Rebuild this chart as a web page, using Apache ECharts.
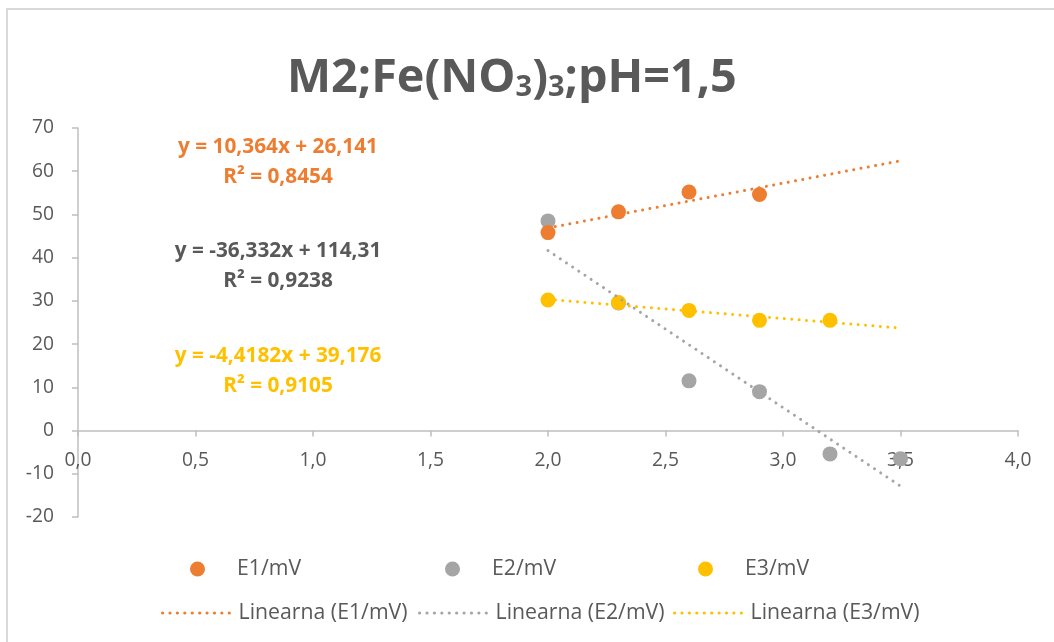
<!DOCTYPE html>
<html>
<head>
<meta charset="utf-8">
<script src="https://cdn.jsdelivr.net/npm/echarts@6/dist/echarts.min.js"></script>
<style>
html,body{margin:0;padding:0;background:#fff;}
#chart{width:1054px;height:642px;}
</style>
</head>
<body>
<div id="chart"></div>
<script>
// ---- data ----
const seriesNames = ['E1/mV', 'E2/mV', 'E3/mV'];
const trendNames = ['Linearna (E1/mV)', 'Linearna (E2/mV)', 'Linearna (E3/mV)'];
const e1X = [2.0, 2.3, 2.6, 2.9];
const e1Y = [45.8, 50.6, 55.2, 54.6];
const e2X = [2.0, 2.3, 2.6, 2.9, 3.2, 3.5];
const e2Y = [48.5, 29.5, 11.5, 9.0, -5.4, -6.5];
const e3X = [2.0, 2.3, 2.6, 2.9, 3.2];
const e3Y = [30.2, 29.6, 27.8, 25.5, 25.5];
// trendline equations as displayed on the chart
const trendSlope = [10.364, -36.332, -4.4182];
const trendIntercept = [26.141, 114.31, 39.176];
const trendRange = [2.0, 3.5];
const eqTexts = ['y = 10,364x + 26,141', 'y = -36,332x + 114,31', 'y = -4,4182x + 39,176'];
const r2Texts = ['R² = 0,8454', 'R² = 0,9238', 'R² = 0,9105'];
const titleParts = ['M2;Fe(NO', '3', ')', '3', ';pH=1,5'];
const xTicks = [0, 4, 0.5];
const yTicks = [-20, 70, 10];

const colors = ['#ED7D31', '#A5A5A5', '#FFC000'];
const eqColors = ['#ED7D31', '#595959', '#FFC000'];
const FONT = 'Open Sans';
const TXT = '#595959';

// font-size fitting helper (layout only)
const cv = document.createElement('canvas').getContext('2d');
function w100(text, weight) { cv.font = weight + ' 100px "' + FONT + '"'; return cv.measureText(text).width / 100; }
const SUB = 0.62;
const titleUnit = w100('M2;Fe(NO);pH=1,5', 'bold') + 2 * SUB * w100('3', 'bold');
const titleSize = Math.min(48, 450 / titleUnit);
const eqSize = Math.min(22, 200 / w100(eqTexts[0], 'bold'));
const legSize = Math.min(22, 169 / w100(trendNames[0], 'normal'));
const axSize = Math.min(21, 22 / w100('70', 'normal'));

const pts = (xs, ys) => xs.map((x, i) => [x, ys[i]]);
const scatterData = [pts(e1X, e1Y), pts(e2X, e2Y), pts(e3X, e3Y)];
const trendData = trendSlope.map((m, i) => trendRange.map(x => [x, m * x + trendIntercept[i]]));

const chart = echarts.init(document.getElementById('chart'), null, {renderer: 'canvas'});

const scatterZ = [3, 2, 4];
const series = [];
seriesNames.forEach((n, i) => {
  series.push({
    name: n, type: 'scatter', data: scatterData[i], symbol: 'circle', symbolSize: 15,
    itemStyle: {color: colors[i], opacity: 1}, z: scatterZ[i], emphasis: {disabled: true}
  });
});
trendNames.forEach((n, i) => {
  series.push({
    name: n, type: 'line', data: trendData[i], showSymbol: false, symbol: 'none',
    lineStyle: {color: colors[i], width: 3, type: [0.01, 7.4], cap: 'round'},
    itemStyle: {color: colors[i]}, z: 5, silent: true, animation: false
  });
});

const eqGraphics = [];
const eqY = [147, 251, 356];
eqTexts.forEach((t, i) => {
  eqGraphics.push({type: 'text', x: 278, y: eqY[i], style: {text: t, fill: eqColors[i], font: 'bold ' + eqSize + 'px "' + FONT + '"', textAlign: 'center', textVerticalAlign: 'middle'}});
  eqGraphics.push({type: 'text', x: 278, y: eqY[i] + 30, style: {text: r2Texts[i], fill: eqColors[i], font: 'bold ' + eqSize + 'px "' + FONT + '"', textAlign: 'center', textVerticalAlign: 'middle'}});
});

// legends: one component per item for exact placement
const legendTextBase = {color: TXT, fontSize: legSize, fontFamily: FONT, lineHeight: 24};
const legends = [];
const row1Left = [190, 445, 698];
seriesNames.forEach((n, i) => {
  legends.push({
    data: [n], left: row1Left[i], top: 557, padding: 0, itemWidth: 15, itemHeight: 15,
    textStyle: Object.assign({}, legendTextBase, {padding: [0, 0, 0, 27]}),
    selectedMode: false
  });
});
const row2Left = [161, 418, 673];
trendNames.forEach((n, i) => {
  legends.push({
    data: [n], left: row2Left[i], top: 601, padding: 0, itemWidth: 71, itemHeight: 12,
    itemStyle: {opacity: 0},
    lineStyle: {width: 3.2},
    textStyle: Object.assign({}, legendTextBase),
    selectedMode: false
  });
});

const titleRich = {
  a: {fontFamily: FONT, fontWeight: 'bold', fontSize: titleSize, color: TXT, verticalAlign: 'bottom', lineHeight: Math.round(titleSize * 1.2)},
  s: {fontFamily: FONT, fontWeight: 'bold', fontSize: titleSize * SUB, color: TXT, verticalAlign: 'bottom', lineHeight: Math.round(titleSize * 1.02)}
};
const titleText = titleParts.map((p, i) => (i % 2 === 1 ? '{s|' : '{a|') + p + '}').join('');

const option = {
  animation: false,
  backgroundColor: '#fff',
  textStyle: {fontFamily: FONT},
  title: {
    text: titleText,
    left: 282, top: 69 - Math.round(titleSize * 0.6),
    textStyle: {rich: titleRich}
  },
  grid: {left: 78, right: 36, top: 128, bottom: 125, containLabel: false},
  xAxis: {
    type: 'value', min: xTicks[0], max: xTicks[1], interval: xTicks[2],
    offset: -(389 * (0 - yTicks[0]) / (yTicks[1] - yTicks[0])),
    axisLine: {onZero: false, lineStyle: {color: '#BFBFBF', width: 1.5}},
    axisTick: {show: true, inside: false, length: 6, lineStyle: {color: '#BFBFBF', width: 1.5}},
    axisLabel: {color: TXT, fontSize: axSize, fontFamily: FONT, margin: 20,
      formatter: v => v.toFixed(1).replace('.', ',')},
    splitLine: {show: false}
  },
  yAxis: {
    type: 'value', min: yTicks[0], max: yTicks[1], interval: yTicks[2],
    axisLine: {show: true, onZero: false, lineStyle: {color: '#BFBFBF', width: 1.5}},
    axisTick: {show: true, inside: false, length: 6, lineStyle: {color: '#BFBFBF', width: 1.5}},
    axisLabel: {color: TXT, fontSize: axSize, fontFamily: FONT, margin: 24},
    splitLine: {show: false}
  },
  legend: legends,
  graphic: [
    {type: 'rect', shape: {x: 7, y: 9, width: 1100, height: 700}, style: {fill: 'none', stroke: '#D9D9D9', lineWidth: 2}, silent: true, z: -10}
  ].concat(eqGraphics),
  series: series
};
chart.setOption(option);
</script>
</body>
</html>
